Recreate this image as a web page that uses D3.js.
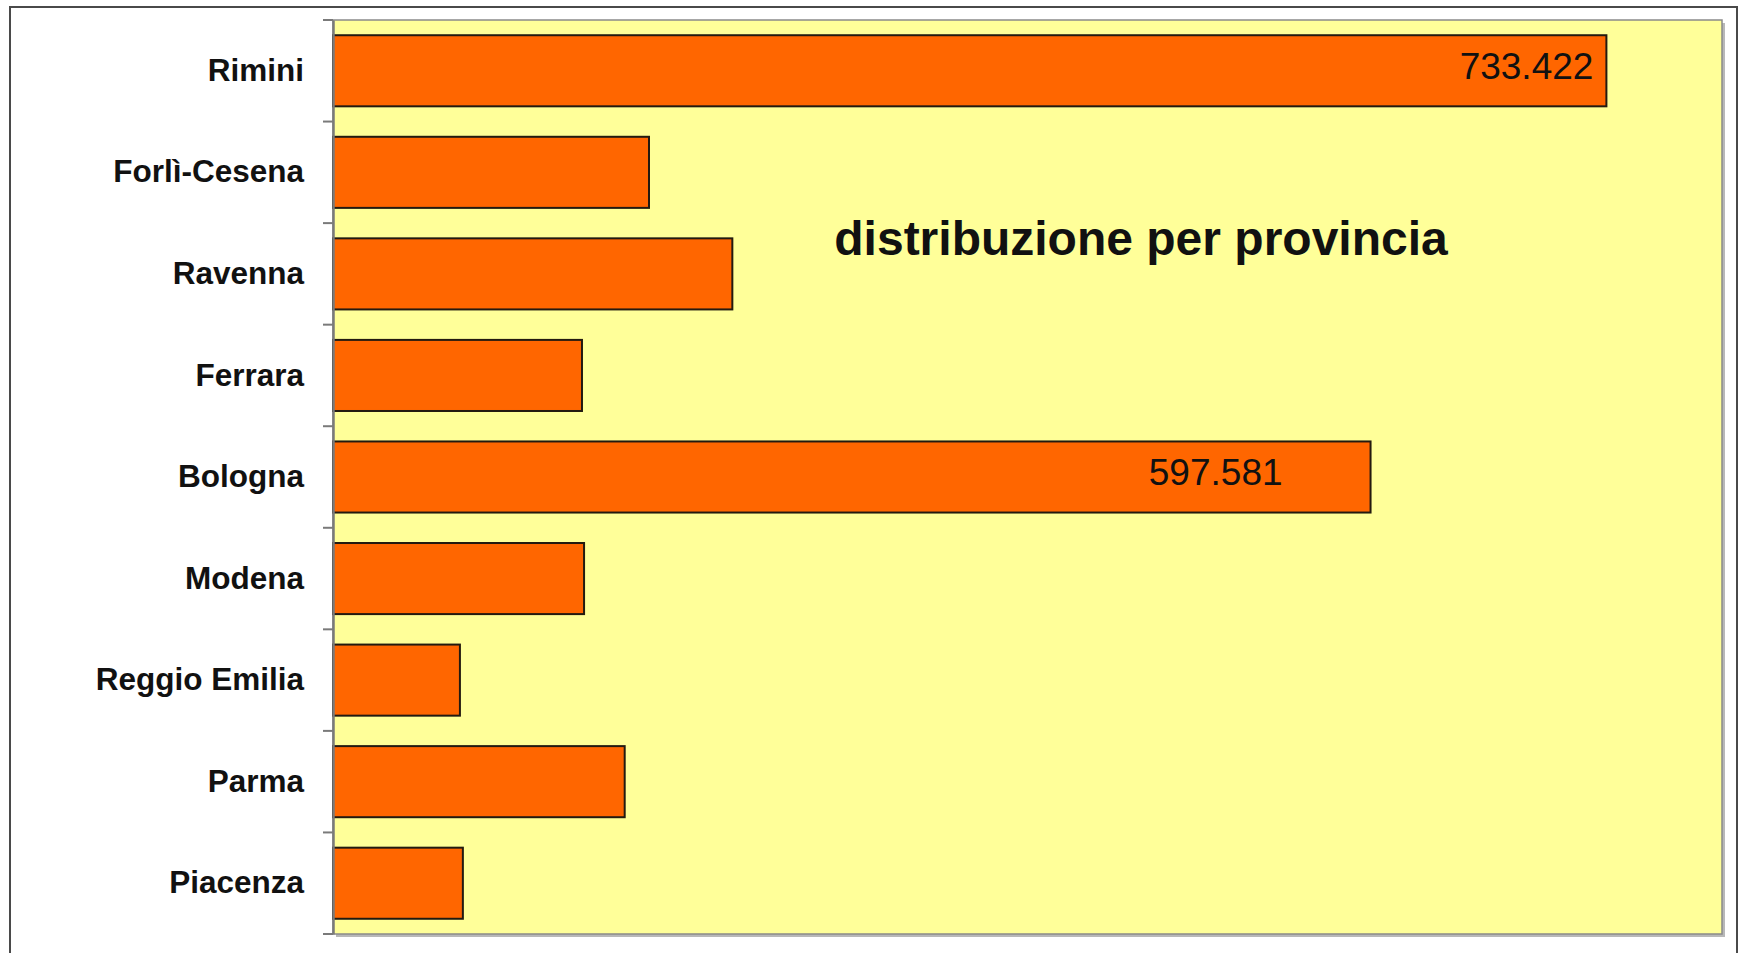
<!DOCTYPE html>
<html>
<head>
<meta charset="utf-8">
<script src="https://cdn.jsdelivr.net/npm/d3@7"></script>
<style>
  body { margin: 0; background: #fff; }
  svg { display: block; }
</style>
</head>
<body>
<div id="chart"></div>
<script>
// distribuzione per provincia
var categories = ["Rimini", "Forlì-Cesena", "Ravenna", "Ferrara", "Bologna", "Modena", "Reggio Emilia", "Parma", "Piacenza"];
var values = [733422, 182000, 230000, 143400, 597581, 144600, 73100, 168000, 74800];
var labelled = ["Rimini", "Bologna"]; // only these bars show their value
var xMax = 800000;
var title = "distribuzione per provincia";

var W = 1741, H = 953;
var plot = { left: 333, top: 20, right: 1722, bottom: 934 };
var font = "'Liberation Sans', Arial, sans-serif";

var svg = d3.select("#chart").append("svg")
    .attr("width", W)
    .attr("height", H);

// outer frame
svg.append("rect")
    .attr("x", 10).attr("y", 7)
    .attr("width", 1727).attr("height", 1000)
    .attr("fill", "#fff")
    .attr("stroke", "#4a4a4a")
    .attr("stroke-width", 2);

var x = d3.scaleLinear().domain([0, xMax]).range([plot.left, plot.right]);
var y = d3.scaleBand().domain(categories)
    .range([plot.top, plot.bottom])
    .paddingInner(0.3)
    .paddingOuter(0.15);

// plot area with a little shadow
svg.append("rect")
    .attr("x", plot.left + 3).attr("y", plot.top + 3)
    .attr("width", plot.right - plot.left).attr("height", plot.bottom - plot.top)
    .attr("fill", "#b8b8b8");
svg.append("rect")
    .attr("x", plot.left).attr("y", plot.top)
    .attr("width", plot.right - plot.left).attr("height", plot.bottom - plot.top)
    .attr("fill", "#ffff99")
    .attr("stroke", "#8a8a8a")
    .attr("stroke-width", 1.5);

// bars
svg.selectAll(".bar")
    .data(values)
    .enter().append("rect")
    .attr("class", "bar")
    .attr("x", x(0))
    .attr("y", function(d, i) { return y(categories[i]); })
    .attr("width", function(d) { return x(d) - x(0); })
    .attr("height", y.bandwidth())
    .attr("fill", "#ff6600")
    .attr("stroke", "#231a10")
    .attr("stroke-width", 2);

// category axis
var axis = svg.append("g")
    .attr("transform", "translate(" + plot.left + ",0)")
    .call(d3.axisLeft(y).tickSize(0).tickSizeOuter(0).tickPadding(29));
axis.select(".domain").attr("stroke", "#7a7a7a").attr("stroke-width", 2.5);
axis.selectAll("text")
    .attr("font-family", font)
    .attr("font-size", 31.5)
    .attr("font-weight", "bold")
    .attr("fill", "#111");

// tick marks between categories
svg.selectAll(".tk")
    .data(d3.range(categories.length + 1))
    .enter().append("line")
    .attr("class", "tk")
    .attr("x1", plot.left - 10).attr("x2", plot.left)
    .attr("y1", function(i) { return plot.top + i * y.step(); })
    .attr("y2", function(i) { return plot.top + i * y.step(); })
    .attr("stroke", "#7a7a7a")
    .attr("stroke-width", 2);

// value labels
var it = d3.formatLocale({ decimal: ",", thousands: ".", grouping: [3], currency: ["€", ""] });
var fmt = it.format(",");
var offs = { "Rimini": 13, "Bologna": 88 };
labelled.forEach(function(c) {
    var v = values[categories.indexOf(c)];
    svg.append("text")
        .attr("x", x(v) - offs[c])
        .attr("y", y(c) + y.bandwidth() / 2 + 8)
        .attr("text-anchor", "end")
        .attr("font-family", font)
        .attr("font-size", 37)
        .attr("fill", "#111")
        .text(fmt(v));
});

// title
svg.append("text")
    .attr("x", 1141)
    .attr("y", 255)
    .attr("text-anchor", "middle")
    .attr("font-family", font)
    .attr("font-size", 48)
    .attr("font-weight", "bold")
    .attr("fill", "#111")
    .text(title);
</script>
</body>
</html>
